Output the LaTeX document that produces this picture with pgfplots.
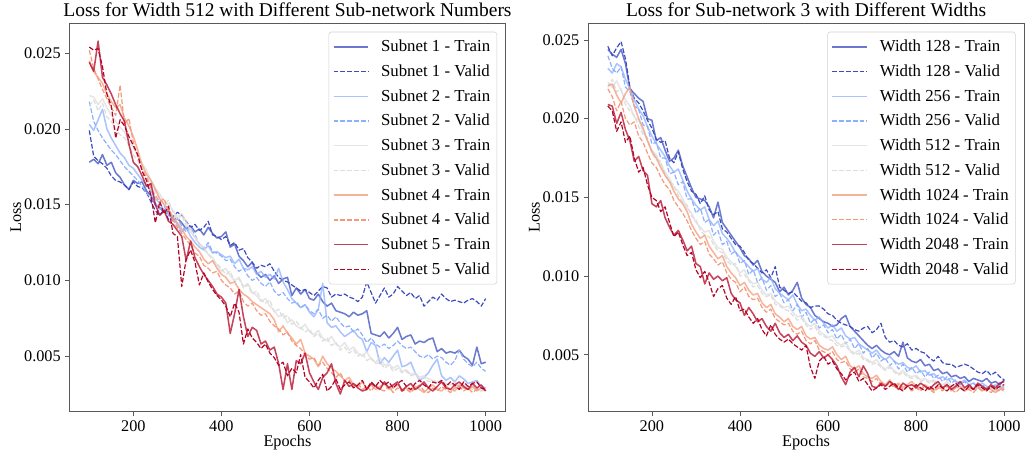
\documentclass[border=0pt]{standalone}
\usepackage{fontspec}
\setmainfont{Liberation Serif}
\usepackage{pgfplots}
\pgfplotsset{compat=1.18}
\definecolor{cwA}{RGB}{59,76,192}
\definecolor{cwB}{RGB}{141,176,254}
\definecolor{cwC}{RGB}{221,221,221}
\definecolor{cwD}{RGB}{244,154,123}
\definecolor{cwE}{RGB}{180,4,38}
\pgfplotsset{
  lossaxis/.style={
    scale only axis, width=327pt, height=291.3pt,
    xmin=55, xmax=1045,
    xtick={200,400,600,800,1000},
    xticklabels={200,400,600,800,1000},
    ytick={5,10,15,20,25},
    yticklabels={0.005,0.010,0.015,0.020,0.025},
    tick align=outside, major tick length=3pt, tick pos=left,
    axis line style={black!65}, tick style={black!65, line width=0.6pt},
    tick label style={font=\fontsize{12.2}{13}\selectfont},
    label style={font=\fontsize{12.2}{13}\selectfont},
    xlabel style={at={(axis description cs:0.5,0)}, anchor=base, yshift=-25.8pt},
    ylabel style={at={(axis description cs:-0.123,0.5)}, anchor=center},
    title style={font=\fontsize{14.6}{16}\selectfont, yshift=-5pt},
    xlabel=Epochs, ylabel=Loss,
    legend cell align=left,
    legend style={at={(1,1)}, anchor=north east, xshift=-6.3pt, yshift=-6.3pt,
      draw=black!18, rounded corners=2pt, fill=white,
      font=\fontsize{12.6}{14}\selectfont, row sep=4.3pt, inner xsep=3pt, inner ysep=4pt,
      /tikz/every odd column/.append style={column sep=7pt}},
    legend image code/.code={\draw[##1] (0pt,0pt) -- (26pt,0pt);},
  },
  tr/.style={solid, line width=1.15pt, draw opacity=0.75, line join=round},
  va/.style={dash pattern=on 3.6pt off 1.5pt, line width=0.9pt, line join=round},
  /pgfplots/table/dat/.style={/pgfplots/table/x expr=100+10*\coordindex, /pgfplots/table/y index=0, /pgfplots/table/header=false, /pgfplots/table/row sep=\\},
}
\begin{document}
\begin{tikzpicture}
\path[use as bounding box] (-52.1pt,-30.2pt) rectangle (716.6pt,308.8pt);
\begin{axis}[lossaxis, at={(0pt,0pt)}, ymin=1.33, ymax=26.97,
  title={Loss for Width 512 with Different Sub-network Numbers}]
\addplot[tr,color=cwA] table[dat]{17.8\\18.0\\17.7\\18.3\\17.6\\17.8\\17.1\\16.8\\16.3\\16.0\\
16.6\\16.4\\16.5\\15.9\\15.6\\15.0\\14.8\\14.5\\14.6\\14.0\\
14.1\\13.8\\13.4\\13.6\\13.2\\13.4\\13.0\\13.5\\13.1\\12.8\\
12.9\\13.2\\12.2\\12.4\\11.6\\11.3\\10.9\\11.2\\10.5\\10.2\\
10.4\\10.0\\10.3\\9.8\\10.1\\10.2\\9.0\\9.5\\9.1\\9.4\\
8.8\\8.7\\9.1\\8.6\\8.3\\8.5\\8.0\\7.9\\7.8\\7.6\\
7.9\\7.7\\7.8\\8.0\\6.5\\6.4\\6.3\\6.6\\6.2\\6.5\\
6.9\\6.1\\6.3\\6.4\\5.8\\6.0\\5.9\\6.1\\6.2\\5.3\\
5.5\\5.2\\5.3\\5.2\\5.4\\5.0\\4.8\\4.4\\5.6\\4.5\\4.6\\};
\addlegendentry{Subnet 1 - Train}
\addplot[va,color=cwA] table[dat]{19.9\\18.2\\17.9\\17.7\\17.4\\16.9\\16.6\\16.5\\16.3\\16.0\\
16.5\\16.2\\16.1\\15.8\\15.2\\14.6\\14.3\\14.7\\14.0\\14.2\\
14.5\\14.3\\13.9\\13.5\\13.7\\13.3\\13.5\\13.9\\13.0\\12.9\\
12.7\\12.9\\12.3\\12.5\\12.0\\12.1\\11.5\\11.2\\10.8\\11.0\\
10.9\\11.1\\10.6\\10.2\\10.0\\9.9\\9.7\\9.5\\9.3\\9.4\\
9.2\\9.0\\9.3\\9.6\\9.5\\8.9\\9.1\\9.0\\9.1\\8.9\\
8.8\\8.6\\8.9\\9.9\\9.2\\8.5\\9.0\\9.5\\8.9\\9.1\\
9.6\\9.3\\9.0\\9.2\\8.8\\9.0\\8.3\\8.6\\8.9\\8.7\\
9.1\\8.8\\8.6\\8.7\\8.6\\8.5\\8.7\\8.8\\8.6\\8.3\\8.8\\};
\addlegendentry{Subnet 1 - Valid}
\addplot[tr,color=cwB] table[dat]{20.3\\19.9\\20.6\\21.3\\20.0\\19.4\\18.9\\18.4\\18.1\\17.6\\
17.4\\17.0\\16.6\\16.3\\15.9\\15.4\\15.1\\14.6\\14.4\\14.1\\
13.7\\13.2\\13.5\\12.9\\12.5\\12.2\\12.0\\12.3\\11.8\\11.9\\
11.7\\11.5\\11.6\\11.1\\11.4\\10.8\\10.7\\10.9\\10.4\\10.6\\
10.2\\10.4\\10.1\\10.8\\9.9\\9.4\\8.8\\8.5\\8.2\\8.4\\
7.9\\7.6\\8.1\\9.8\\7.2\\6.9\\7.0\\6.6\\6.3\\6.5\\
6.7\\6.3\\6.1\\5.3\\5.9\\5.7\\4.5\\4.9\\4.6\\5.0\\
5.4\\4.3\\4.4\\4.6\\3.9\\3.4\\3.6\\3.9\\4.4\\4.8\\
3.7\\3.4\\3.6\\3.3\\3.7\\3.5\\3.2\\3.3\\3.4\\3.0\\2.9\\};
\addlegendentry{Subnet 2 - Train}
\addplot[va,color=cwB] table[dat]{21.8\\20.5\\19.9\\19.4\\19.0\\18.6\\18.3\\17.9\\17.5\\17.2\\
16.9\\16.6\\16.2\\15.8\\15.4\\15.1\\14.7\\14.9\\14.3\\13.9\\
14.1\\13.6\\13.2\\13.5\\13.0\\12.4\\12.1\\12.5\\11.9\\11.8\\
11.6\\11.3\\11.4\\10.9\\10.6\\10.8\\10.3\\10.0\\10.2\\9.8\\
9.6\\9.9\\9.3\\9.0\\9.2\\8.8\\8.5\\8.6\\8.2\\8.4\\
8.0\\7.8\\8.1\\7.5\\7.7\\7.3\\7.6\\7.2\\6.9\\7.0\\
6.6\\6.8\\6.4\\5.9\\6.2\\5.8\\5.6\\5.8\\5.5\\5.7\\
6.0\\5.7\\5.5\\5.6\\5.3\\5.0\\4.9\\5.1\\4.8\\5.0\\
4.9\\4.6\\4.4\\4.7\\5.4\\4.8\\4.5\\4.3\\4.6\\4.2\\4.0\\};
\addlegendentry{Subnet 2 - Valid}
\addplot[tr,color=cwC] table[dat]{22.2\\22.1\\21.6\\22.0\\21.4\\20.9\\20.5\\20.1\\19.8\\19.2\\
18.8\\18.2\\17.7\\17.3\\16.6\\16.1\\15.7\\15.2\\15.0\\14.6\\
14.2\\14.4\\13.9\\13.2\\12.9\\12.4\\12.2\\11.7\\11.5\\11.0\\
10.6\\10.8\\10.3\\10.0\\10.2\\9.6\\9.8\\9.2\\9.0\\8.6\\
8.8\\8.3\\8.0\\7.6\\7.8\\7.2\\7.4\\7.0\\6.8\\7.1\\
6.6\\6.4\\6.7\\6.2\\6.0\\6.3\\5.8\\5.6\\5.9\\5.4\\
5.6\\5.2\\5.0\\5.3\\4.8\\4.6\\4.9\\4.4\\4.5\\4.2\\
4.4\\4.0\\4.1\\3.8\\3.9\\3.6\\3.7\\3.5\\3.4\\3.3\\
3.4\\3.2\\3.1\\3.3\\3.0\\3.1\\2.9\\3.0\\2.8\\2.7\\2.8\\};
\addlegendentry{Subnet 3 - Train}
\addplot[va,color=cwC] table[dat]{21.5\\21.9\\21.2\\21.7\\20.8\\20.5\\20.0\\19.6\\19.4\\18.9\\
18.3\\17.9\\17.3\\17.0\\16.3\\15.9\\15.4\\15.0\\15.3\\14.5\\
14.0\\14.3\\13.6\\13.4\\12.7\\12.5\\12.0\\11.8\\11.3\\11.1\\
10.8\\10.4\\10.6\\9.9\\10.1\\9.5\\9.7\\9.1\\9.3\\8.7\\
8.5\\8.7\\7.9\\8.1\\7.5\\7.7\\7.1\\7.3\\6.9\\6.6\\
6.8\\6.3\\6.5\\6.0\\6.2\\5.7\\5.9\\5.4\\5.6\\5.2\\
5.4\\5.0\\5.2\\4.7\\4.9\\4.5\\4.6\\4.2\\4.4\\4.0\\
4.2\\3.9\\4.0\\3.7\\3.8\\3.5\\3.6\\3.3\\3.4\\3.2\\
3.3\\3.1\\3.2\\3.0\\3.1\\2.9\\3.0\\2.8\\2.9\\2.7\\2.8\\};
\addlegendentry{Subnet 3 - Valid}
\addplot[tr,color=cwD] table[dat]{24.5\\23.8\\23.4\\23.0\\22.3\\21.8\\21.4\\21.6\\20.7\\20.2\\
19.5\\18.6\\17.6\\17.0\\16.6\\16.0\\15.4\\15.0\\14.7\\14.2\\
13.8\\13.4\\12.9\\12.6\\12.2\\11.9\\11.4\\11.1\\11.3\\10.8\\
10.4\\10.2\\9.8\\9.9\\9.4\\9.1\\8.9\\8.6\\8.4\\8.2\\
8.0\\7.8\\7.4\\6.6\\7.0\\6.5\\6.2\\5.8\\6.1\\5.2\\
5.0\\4.8\\4.3\\5.0\\4.5\\4.2\\4.0\\3.7\\3.4\\3.6\\
3.1\\3.0\\3.3\\2.9\\3.1\\2.8\\3.0\\3.2\\2.8\\2.9\\
3.1\\2.8\\2.9\\2.7\\3.0\\2.8\\2.6\\2.9\\3.1\\2.8\\
2.7\\3.0\\2.8\\2.7\\3.1\\2.9\\2.8\\3.0\\2.7\\2.9\\2.7\\};
\addlegendentry{Subnet 4 - Train}
\addplot[va,color=cwD] table[dat]{25.2\\24.0\\23.3\\22.6\\22.0\\21.4\\20.9\\22.9\\20.3\\20.7\\
19.1\\18.2\\17.3\\16.8\\16.1\\15.6\\15.2\\15.4\\14.5\\14.0\\
13.5\\13.1\\12.7\\12.3\\11.8\\11.6\\11.0\\10.8\\10.5\\10.6\\
10.0\\9.7\\9.5\\9.1\\9.3\\8.6\\8.3\\8.5\\8.0\\7.7\\
7.8\\7.3\\7.0\\6.8\\6.4\\6.6\\6.0\\5.7\\5.5\\5.1\\
4.8\\4.9\\4.4\\4.6\\4.2\\3.9\\3.6\\3.9\\3.3\\3.4\\
3.0\\3.2\\2.8\\3.0\\2.7\\3.1\\2.8\\2.7\\3.0\\2.6\\
2.9\\2.7\\2.8\\2.6\\2.9\\3.1\\2.7\\2.6\\2.9\\2.7\\
3.0\\2.8\\2.6\\2.9\\3.0\\2.7\\2.9\\2.6\\2.8\\2.9\\2.7\\};
\addlegendentry{Subnet 4 - Valid}
\addplot[tr,color=cwE] table[dat]{24.4\\23.8\\25.8\\23.4\\22.9\\22.3\\21.6\\21.0\\20.5\\19.0\\
17.8\\17.5\\16.9\\16.2\\16.4\\15.0\\14.3\\14.6\\13.9\\13.7\\
13.3\\12.9\\11.3\\12.6\\11.5\\10.9\\10.4\\10.0\\9.6\\9.1\\
8.9\\8.5\\6.5\\7.8\\9.4\\7.6\\6.3\\6.9\\6.7\\5.8\\
6.0\\5.4\\5.6\\4.5\\2.8\\4.5\\2.8\\4.7\\4.5\\5.2\\
3.9\\3.3\\2.8\\3.6\\3.9\\4.5\\3.2\\2.5\\3.4\\3.0\\
3.2\\2.9\\2.7\\2.8\\3.2\\3.0\\2.8\\3.3\\2.9\\3.1\\
3.3\\2.7\\3.0\\3.2\\2.8\\3.0\\3.3\\2.9\\2.7\\3.0\\
3.3\\2.9\\2.8\\3.1\\3.3\\3.0\\2.8\\3.2\\2.9\\3.1\\2.7\\};
\addlegendentry{Subnet 5 - Train}
\addplot[va,color=cwE] table[dat]{25.4\\25.2\\25.3\\24.1\\22.3\\21.5\\19.4\\20.6\\20.2\\19.5\\
18.9\\18.3\\17.2\\16.6\\15.6\\13.8\\15.2\\14.4\\14.9\\13.1\\
12.9\\9.6\\11.4\\12.0\\11.2\\9.7\\10.5\\9.9\\9.4\\9.0\\
8.7\\8.3\\7.6\\8.5\\7.9\\5.8\\6.8\\6.2\\5.9\\5.5\\
5.8\\5.2\\4.9\\4.4\\4.6\\3.7\\4.2\\3.9\\5.1\\3.6\\
3.3\\2.9\\3.4\\3.8\\2.7\\3.0\\3.5\\2.8\\3.1\\3.3\\
2.9\\3.1\\3.4\\2.8\\3.3\\3.0\\3.4\\3.1\\3.3\\2.9\\
3.2\\3.4\\3.0\\2.8\\3.2\\3.4\\3.1\\2.9\\3.3\\3.2\\
3.4\\3.0\\3.3\\3.1\\2.8\\3.3\\3.0\\3.2\\3.3\\2.9\\2.8\\};
\addlegendentry{Subnet 5 - Valid}
\end{axis}
\begin{axis}[lossaxis, at={(388.9pt,0pt)}, ymin=1.38, ymax=26.06,
  title={Loss for Sub-network 3 with Different Widths}]
\addplot[tr,color=cwA] table[dat]{24.4\\24.1\\23.9\\24.4\\23.5\\21.9\\21.6\\21.3\\21.1\\20.0\\
19.9\\18.6\\18.8\\18.0\\17.3\\17.5\\18.0\\17.0\\16.3\\15.6\\
15.0\\14.9\\14.8\\14.4\\13.7\\14.7\\13.4\\13.0\\12.6\\12.2\\
11.8\\11.3\\11.1\\10.7\\11.0\\10.3\\10.0\\9.8\\9.6\\9.0\\
9.3\\8.8\\9.1\\9.6\\8.6\\8.2\\8.0\\7.5\\7.3\\7.1\\
7.0\\6.8\\6.9\\7.3\\7.5\\6.8\\6.5\\6.2\\5.9\\5.6\\
5.4\\5.6\\5.3\\5.1\\5.0\\5.2\\4.9\\5.8\\4.8\\4.6\\
4.5\\4.7\\4.3\\4.4\\4.0\\4.1\\3.8\\3.9\\3.6\\3.7\\
3.5\\3.6\\3.3\\3.5\\3.4\\3.3\\3.5\\3.2\\3.3\\3.1\\3.4\\};
\addlegendentry{Width 128 - Train}
\addplot[va,color=cwA] table[dat]{24.6\\24.0\\24.5\\24.9\\23.8\\22.0\\21.3\\21.0\\20.5\\19.9\\
19.4\\18.7\\18.5\\18.6\\17.5\\17.2\\17.9\\16.8\\16.0\\15.4\\
15.2\\14.6\\15.1\\14.2\\13.9\\14.1\\13.0\\12.8\\12.4\\12.0\\
11.9\\11.5\\11.0\\10.8\\10.5\\10.2\\10.4\\9.9\\10.6\\9.3\\
9.1\\8.9\\9.0\\8.7\\8.4\\8.3\\8.0\\8.1\\8.1\\7.9\\
7.6\\7.5\\7.2\\7.0\\6.9\\6.8\\6.6\\6.5\\6.7\\6.8\\
6.4\\6.6\\7.0\\6.1\\5.8\\5.9\\5.6\\5.5\\5.7\\5.3\\
5.4\\5.2\\5.1\\4.8\\4.6\\4.9\\4.5\\4.4\\4.4\\4.2\\
4.3\\4.4\\4.3\\4.1\\3.9\\3.8\\4.0\\3.7\\3.9\\3.6\\3.4\\};
\addlegendentry{Width 128 - Valid}
\addplot[tr,color=cwB] table[dat]{23.2\\22.9\\23.5\\23.3\\22.5\\21.9\\21.2\\20.6\\20.2\\19.5\\
18.9\\18.4\\18.0\\17.6\\17.0\\16.6\\16.8\\16.1\\15.4\\14.9\\
14.5\\14.2\\14.4\\13.6\\13.2\\13.5\\12.7\\12.4\\12.0\\11.5\\
11.2\\10.9\\10.6\\10.3\\10.5\\9.8\\9.6\\9.9\\9.2\\8.9\\
8.7\\8.5\\8.8\\8.2\\7.8\\7.9\\7.5\\7.2\\7.4\\7.0\\
6.7\\6.9\\6.5\\6.7\\6.2\\6.0\\6.1\\5.7\\5.5\\5.3\\
5.1\\5.3\\4.9\\4.7\\4.9\\4.6\\4.4\\4.5\\4.2\\4.1\\
4.3\\3.9\\4.0\\3.7\\3.8\\3.5\\3.6\\3.4\\3.5\\3.3\\
3.2\\3.4\\3.1\\3.2\\3.0\\3.2\\3.0\\2.9\\3.1\\2.9\\3.0\\};
\addlegendentry{Width 256 - Train}
\addplot[va,color=cwB] table[dat]{24.0\\23.2\\22.9\\23.3\\22.0\\21.7\\20.8\\20.6\\19.6\\19.5\\
18.4\\18.5\\17.5\\17.5\\16.5\\16.6\\15.8\\16.0\\14.9\\14.9\\
14.0\\14.3\\13.4\\13.6\\12.6\\12.9\\12.0\\12.2\\11.4\\11.6\\
10.8\\11.0\\10.1\\10.4\\9.6\\9.9\\9.1\\9.4\\8.7\\8.9\\
8.3\\8.5\\7.8\\8.2\\7.4\\7.7\\7.0\\7.3\\6.7\\6.9\\
6.4\\6.6\\6.0\\6.3\\5.7\\6.0\\5.4\\5.7\\5.1\\5.4\\
4.8\\5.1\\4.6\\4.8\\4.3\\4.6\\4.1\\4.4\\3.9\\4.2\\
3.8\\4.0\\3.6\\3.9\\3.5\\3.7\\3.3\\3.6\\3.2\\3.4\\
3.1\\3.3\\3.0\\3.2\\2.9\\3.1\\2.8\\3.0\\2.8\\2.9\\2.8\\};
\addlegendentry{Width 256 - Valid}
\addplot[tr,color=cwC] table[dat]{22.3\\22.0\\22.4\\21.8\\21.2\\20.8\\20.1\\19.9\\19.2\\18.6\\
18.0\\17.7\\17.1\\16.6\\16.2\\15.6\\15.4\\14.9\\14.3\\14.0\\
13.4\\13.1\\12.8\\12.9\\12.2\\11.8\\11.7\\11.2\\10.9\\10.6\\
10.2\\10.4\\9.8\\9.5\\9.6\\9.1\\8.8\\8.9\\8.4\\8.2\\
8.0\\8.1\\7.7\\7.4\\7.5\\7.0\\6.8\\7.0\\6.5\\6.3\\
6.1\\6.2\\5.8\\5.6\\5.8\\5.3\\5.1\\5.3\\4.8\\4.7\\
4.5\\4.7\\4.3\\4.1\\4.3\\4.0\\3.8\\4.0\\3.7\\3.6\\
3.7\\3.4\\3.5\\3.3\\3.4\\3.2\\3.1\\3.3\\3.0\\3.1\\
3.0\\2.9\\3.1\\2.8\\2.9\\3.0\\2.8\\2.9\\2.7\\2.8\\2.9\\};
\addlegendentry{Width 512 - Train}
\addplot[va,color=cwC] table[dat]{22.0\\22.5\\21.7\\21.9\\20.9\\20.5\\20.2\\19.5\\19.0\\18.8\\
17.8\\17.4\\17.3\\16.4\\16.0\\15.8\\15.1\\14.7\\14.5\\13.8\\
13.6\\12.9\\12.6\\12.5\\12.0\\11.6\\11.5\\11.0\\10.7\\10.8\\
10.0\\10.1\\9.7\\9.3\\9.4\\8.9\\8.7\\8.8\\8.2\\8.1\\
7.9\\7.8\\7.5\\7.2\\7.3\\6.9\\6.6\\6.8\\6.3\\6.2\\
6.0\\5.9\\5.6\\5.5\\5.6\\5.2\\5.0\\5.1\\4.7\\4.6\\
4.4\\4.5\\4.2\\4.0\\4.2\\3.9\\3.7\\3.9\\3.6\\3.5\\
3.6\\3.3\\3.4\\3.2\\3.3\\3.1\\3.0\\3.2\\2.9\\3.0\\
2.9\\2.8\\3.0\\2.8\\2.9\\2.8\\2.7\\2.9\\2.7\\2.8\\2.7\\};
\addlegendentry{Width 512 - Valid}
\addplot[tr,color=cwD] table[dat]{22.1\\22.2\\21.5\\21.0\\21.6\\22.0\\20.8\\20.0\\19.4\\18.6\\
17.9\\17.5\\16.9\\16.4\\16.0\\15.4\\14.9\\14.6\\14.1\\13.3\\
12.8\\12.4\\12.6\\11.9\\11.5\\11.1\\11.3\\10.6\\10.2\\9.9\\
9.4\\9.6\\9.1\\8.8\\8.9\\8.3\\8.0\\8.2\\7.6\\7.4\\
7.1\\7.3\\6.8\\6.6\\6.8\\6.2\\6.0\\6.1\\5.6\\5.4\\
5.3\\5.5\\5.0\\4.7\\4.9\\4.3\\4.1\\4.3\\3.8\\3.6\\
3.5\\3.7\\3.3\\3.1\\3.4\\3.0\\3.2\\2.9\\3.1\\3.3\\
3.0\\2.8\\3.1\\2.9\\2.7\\3.0\\2.8\\3.1\\2.7\\2.9\\
3.0\\2.7\\2.9\\2.8\\3.0\\2.7\\2.9\\2.8\\2.6\\2.8\\2.9\\};
\addlegendentry{Width 1024 - Train}
\addplot[va,color=cwD] table[dat]{21.9\\21.4\\20.5\\21.1\\20.0\\19.6\\19.8\\18.9\\18.5\\17.8\\
17.2\\16.9\\16.3\\15.8\\15.5\\14.8\\14.4\\14.0\\13.5\\12.9\\
12.4\\12.0\\12.2\\11.4\\11.1\\10.7\\10.9\\10.2\\9.8\\9.6\\
9.0\\9.3\\8.7\\8.5\\8.6\\8.0\\7.7\\7.9\\7.3\\7.1\\
6.9\\7.0\\6.5\\6.3\\6.5\\5.9\\5.7\\5.9\\5.3\\5.2\\
5.0\\5.2\\4.7\\4.5\\4.6\\4.1\\3.9\\4.1\\3.6\\3.5\\
3.3\\3.5\\3.1\\3.0\\3.2\\2.9\\3.1\\2.8\\3.0\\2.7\\
2.9\\2.7\\3.0\\2.8\\2.6\\2.9\\2.7\\3.0\\2.8\\2.6\\
2.9\\2.7\\2.8\\2.6\\2.9\\2.7\\2.8\\2.6\\2.8\\2.7\\2.8\\};
\addlegendentry{Width 1024 - Valid}
\addplot[tr,color=cwE] table[dat]{20.9\\20.8\\19.7\\20.4\\19.3\\18.6\\17.3\\17.6\\16.7\\16.4\\
14.6\\14.4\\14.8\\13.7\\13.1\\12.6\\12.9\\12.3\\11.6\\11.9\\
10.8\\10.6\\9.5\\10.2\\9.8\\10.0\\9.7\\9.9\\8.9\\8.5\\
8.3\\7.5\\8.0\\7.6\\7.1\\7.3\\6.8\\6.5\\7.0\\6.4\\
6.1\\6.3\\5.9\\6.2\\5.8\\5.6\\5.1\\4.9\\5.2\\4.8\\
5.0\\4.7\\4.3\\3.6\\3.1\\3.9\\4.2\\3.6\\4.3\\3.8\\
3.0\\2.9\\3.2\\3.0\\3.3\\3.1\\2.8\\3.2\\3.0\\3.1\\
2.9\\3.2\\3.0\\2.8\\3.1\\3.3\\2.9\\3.1\\2.8\\3.0\\
3.3\\2.9\\3.1\\2.8\\3.2\\3.0\\2.8\\3.1\\2.9\\3.2\\3.3\\};
\addlegendentry{Width 2048 - Train}
\addplot[va,color=cwE] table[dat]{20.8\\20.5\\19.2\\19.8\\18.5\\18.9\\17.5\\16.6\\16.9\\15.8\\
15.0\\14.8\\14.1\\14.4\\13.4\\12.5\\12.8\\12.0\\11.3\\11.5\\
10.4\\9.9\\10.3\\9.6\\8.7\\9.2\\9.4\\8.6\\8.2\\8.7\\
7.8\\7.9\\7.4\\7.0\\7.3\\6.6\\6.2\\6.9\\6.3\\6.0\\
5.8\\6.0\\5.7\\5.5\\5.3\\5.6\\4.2\\3.5\\4.6\\4.9\\
4.4\\4.6\\4.1\\3.8\\3.4\\3.7\\3.9\\3.3\\3.5\\3.1\\
2.7\\2.9\\3.1\\2.8\\3.0\\3.2\\2.9\\2.7\\3.0\\2.8\\
3.1\\2.9\\2.7\\3.0\\2.8\\3.1\\2.9\\2.7\\3.0\\3.2\\
2.9\\2.7\\3.0\\2.8\\3.1\\2.9\\2.7\\3.0\\2.8\\3.0\\3.1\\};
\addlegendentry{Width 2048 - Valid}
\end{axis}
\end{tikzpicture}
\end{document}
